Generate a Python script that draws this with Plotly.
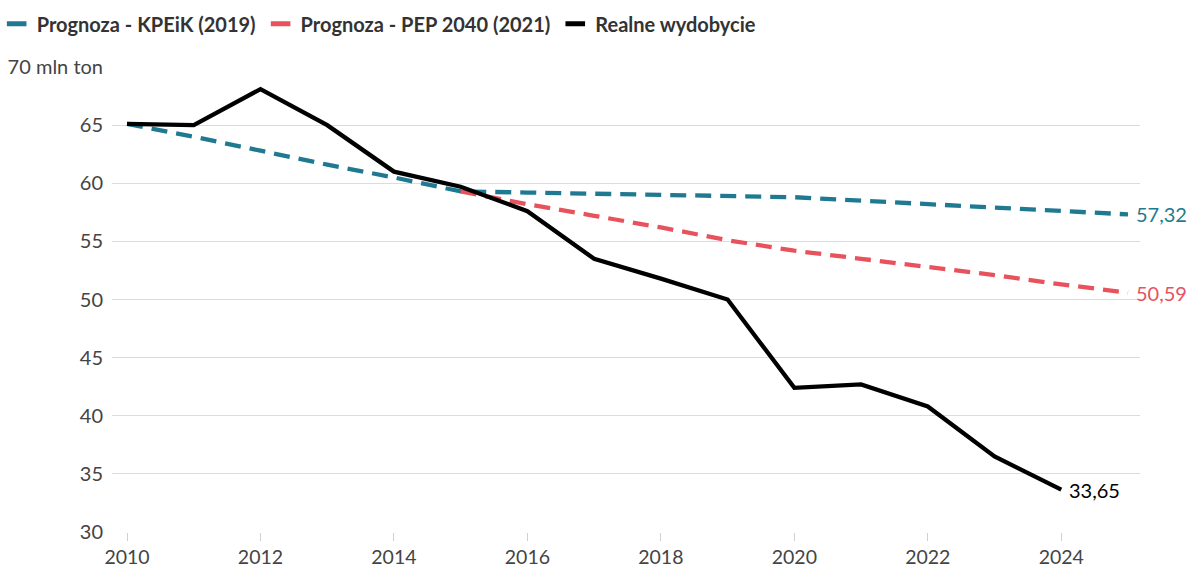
import plotly.graph_objects as go

years = list(range(2010, 2026))
kpeik = [65.1, 64.0, 62.8, 61.6, 60.5, 59.3, 59.2, 59.1, 59.0, 58.9, 58.8, 58.5, 58.2, 57.9, 57.6, 57.32]
pep_years = list(range(2015, 2026))
pep = [59.3, 58.2, 57.2, 56.2, 55.1, 54.2, 53.5, 52.8, 52.1, 51.3, 50.59]
real_years = list(range(2010, 2025))
real = [65.1, 65.0, 68.1, 65.0, 61.0, 59.7, 57.6, 53.5, 51.8, 50.0, 42.4, 42.7, 40.8, 36.5, 33.65]

names = ["Prognoza - KPEiK (2019)", "Prognoza - PEP 2040 (2021)", "Realne wydobycie"]
colors = ["#1f7a91", "#e8525c", "#000000"]
end_labels = ["57,32", "50,59", "33,65"]

y_ticks = [30, 35, 40, 45, 50, 55, 60, 65, 70]
y_ticktext = ["30", "35", "40", "45", "50", "55", "60", "65", "70 mln ton"]
x_ticks = list(range(2010, 2025, 2))

FONT = "Lato, 'Open Sans', sans-serif"
fig = go.Figure()

series = [(years, kpeik, "16px,9px"), (pep_years, pep, "16px,9px"), (real_years, real, "solid")]
for (xs, ys, dash), name, col, lab in zip(series, names, colors, end_labels):
    fig.add_trace(go.Scatter(x=xs, y=ys, mode="lines", showlegend=False,
                             line=dict(color=col, width=4.3, dash=dash), hoverinfo="skip"))
    fig.add_annotation(x=xs[-1], y=ys[-1], text=lab, showarrow=False, xanchor="left",
                       xshift=6, font=dict(family=FONT, size=20, color=col))

for name, col in zip(names, colors):
    fig.add_trace(go.Scatter(x=[None], y=[None], mode="markers", name=name,
                             marker=dict(symbol="line-ew-open", size=14, color=col,
                                         line=dict(color=col, width=5))))

fig.update_layout(
    width=1189, height=568,
    margin=dict(l=112, r=49, t=67, b=36, autoexpand=False),
    paper_bgcolor="white", plot_bgcolor="white",
    font=dict(family=FONT, size=19, color="#444"),
    showlegend=True,
    legend=dict(orientation="h", x=-0.1122, y=1.135, xref="paper", yref="paper",
                xanchor="left", yanchor="top", itemwidth=30,
                font=dict(family=FONT, size=20, color="#333", weight="bold"),
                tracegroupgap=0),
    xaxis=dict(range=[2009.775, 2025.18], tickvals=x_ticks, showgrid=False, zeroline=False,
               ticks="outside", ticklen=8, tickcolor="#d0d0d0", tickwidth=1, automargin=False,
               showline=False, tickfont=dict(family=FONT, size=19.5, color="#444")),
    yaxis=dict(range=[30, 70], tickvals=y_ticks, ticktext=y_ticktext, showgrid=True,
               gridcolor="#dcdcdc", gridwidth=1, zeroline=False, ticks="", automargin=False,
               ticklabelstandoff=8, tickfont=dict(family=FONT, size=20, color="#444")),
)

fig.write_html("out.html", config={"displayModeBar": False},
               post_script="document.body.style.margin='0';document.body.style.overflow='hidden';")
